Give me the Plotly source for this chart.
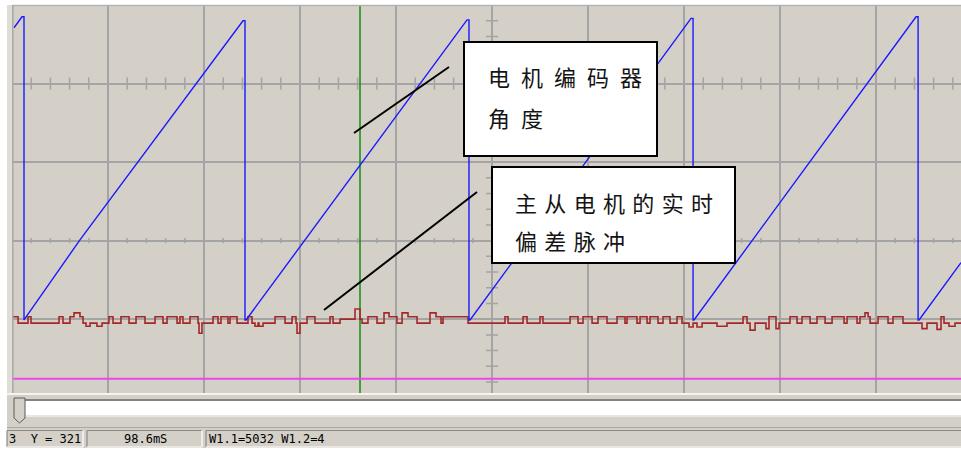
import plotly.graph_objects as go

# ---------------- data: time in ms (10 ms / div), amplitude in screen units (100 / div)
blue_t = [0.21, 1.04, 1.25, 1.25, 7.08, 24.06, 24.27, 24.27, 24.38, 47.40, 47.60, 47.60,
          47.71, 70.73, 70.94, 70.94, 71.04, 94.17, 94.38, 94.38, 94.48, 98.85]
blue_v = [371, 385, 385, -1, 101, 380, 380, -1, -1, 381, 381, -1,
          -1, 383, 383, -1, -1, 385, 385, -1, -1, 72]

red_t = [0.00, 0.63, 1.67, 1.98, 4.90, 5.31, 6.04, 6.46, 7.08, 7.40,
         7.71, 8.13, 8.85, 9.38, 10.10, 10.52, 11.35, 12.19, 12.92, 13.85,
         14.90, 15.73, 16.15, 17.19, 17.50, 17.81, 18.54, 19.38, 19.48, 19.79,
         20.94, 21.46, 21.77, 22.50, 22.71, 23.44, 24.58, 25.00, 25.31, 25.63,
         25.73, 26.15, 27.40, 28.44, 29.17, 29.58, 29.69, 30.00, 30.73, 31.56,
         33.13, 33.44, 34.17, 35.73, 36.25, 36.46, 37.08, 38.02, 38.75, 39.27,
         40.10, 40.63, 41.25, 42.19, 43.54, 44.17, 44.69, 44.90, 47.50, 51.35,
         51.67, 53.23, 53.65, 55.00, 55.31, 58.13, 58.96, 59.48, 60.42, 61.04,
         61.98, 63.02, 63.85, 64.06, 65.10, 65.42, 66.15, 66.46, 67.29, 67.81,
         68.54, 69.27, 69.79, 70.52, 70.94, 71.35, 71.88, 73.44, 74.48, 76.15,
         76.56, 76.88, 77.40, 78.54, 78.85, 79.58, 79.90, 81.04, 81.77, 82.29,
         83.13, 83.85, 84.69, 85.42, 86.67, 86.98, 88.02, 88.33, 88.85, 89.17,
         89.38, 90.21, 91.25, 91.77, 92.81, 94.79, 95.31, 96.35, 96.77, 97.08,
         97.60, 98.23, 98.85]
red_v = [3, -5, 3, -5, 3, -5, 3, 8, 3, -5,
         -9, -5, -9, -5, 3, -5, 3, -5, 3, -5,
         3, -5, 3, -5, 3, -5, 3, -5, -18, -5,
         3, -5, 3, -5, 3, -5, 3, -5, -9, -5,
         -9, -5, 3, -5, 3, -5, -18, -5, 3, -5,
         3, -5, 0, 13, 0, -5, 3, -5, 8, 3,
         -5, 8, 3, -5, 8, 3, -5, 3, -5, 3,
         -5, 3, -5, 3, -5, 3, -5, 3, -5, 3,
         -5, 3, -5, 3, -5, 3, -5, 3, -5, 3,
         -5, 3, -5, -10, -5, -10, -5, -9, -5, 3,
         -5, -14, -5, -12, 3, -12, -5, 3, -5, 3,
         -5, 3, -5, 3, -5, 3, -5, 3, 8, 3,
         -5, 3, -5, 3, -5, -12, -5, -13, 3, -5,
         -9, -5, -5]

pink_t = [0.0, 98.85]
pink_v = [-76, -76]
cursor_t = 36.25

x_range = [0, 98.85]
y_range = [-94, 400]

box1_lines = ["电\u2002机\u2002编\u2002码\u2002器", "角\u2002度"]
box2_lines = ["主\u2004从\u2004电\u2004机\u2004的\u2004实\u2004时", "偏\u2004差\u2004脉\u2004冲"]
status_texts = ["3  Y = 321", "98.6mS", "W1.1=5032 W1.2=4"]

# ---------------- geometry helpers (pixel -> paper)
W, H = 961, 452
L, R, T, B = 12, 0, 5, 59
PW, PH = W - L - R, H - T - B


def px(x):
    return (x - L) / PW


def py(y):
    return (H - B - y) / PH


GRID = '#A4A4A4'
BG = '#D4D0C8'

fig = go.Figure()
fig.add_trace(go.Scatter(x=[cursor_t, cursor_t], y=y_range, mode='lines',
                         line=dict(color='#128C12', width=1.5), hoverinfo='skip'))
fig.add_trace(go.Scatter(x=pink_t, y=pink_v, mode='lines',
                         line=dict(color='#EE44EE', width=2), hoverinfo='skip'))
fig.add_trace(go.Scatter(x=red_t, y=red_v, mode='lines',
                         line=dict(color='#A32828', width=1.6, shape='hv'), hoverinfo='skip'))
fig.add_trace(go.Scatter(x=blue_t, y=blue_v, mode='lines',
                         line=dict(color='#1A1AFF', width=1.4), hoverinfo='skip'))

shapes = []
# axis tick marks on the scope's centre lines
tk = ''.join(f'M{t},{300 - 7.6}L{t},{300 + 7.6}' for t in range(2, 99, 2))
shapes.append(dict(type='path', xref='x', yref='y', path=tk, layer='below',
                   line=dict(color=GRID, width=1.5)))
tk = ''.join(f'M{t},{100 - 3.2}L{t},{100 + 3.2}' for t in range(2, 99, 2))
shapes.append(dict(type='path', xref='x', yref='y', path=tk, layer='below',
                   line=dict(color=GRID, width=1.5)))
tk = ''.join(f'M{50 - 0.63},{v}L{50 + 0.63},{v}' for v in range(-80, 400, 20))
shapes.append(dict(type='path', xref='x', yref='y', path=tk, layer='below',
                   line=dict(color=GRID, width=1.5)))

# frame borders
shapes.append(dict(type='line', xref='paper', yref='paper', x0=px(12), x1=px(961),
                   y0=py(5.5), y1=py(5.5), line=dict(color='#B4B4B4', width=1.5)))
shapes.append(dict(type='line', xref='paper', yref='paper', x0=px(12.8), x1=px(12.8),
                   y0=py(5), y1=py(393), line=dict(color='#A8A8A8', width=1.5)))
shapes.append(dict(type='rect', xref='paper', yref='paper', x0=px(7), x1=px(12),
                   y0=py(5), y1=py(393), fillcolor='#E0DDD7', line=dict(width=0)))

# bottom chrome: scroll bar and status bar
shapes.append(dict(type='rect', xref='paper', yref='paper', x0=px(7), x1=px(961),
                   y0=py(393), y1=py(448), fillcolor=BG, line=dict(width=0), layer='below'))
shapes.append(dict(type='line', xref='paper', yref='paper', x0=px(7), x1=px(961),
                   y0=py(394), y1=py(394), line=dict(color='#F4F3F0', width=2)))
shapes.append(dict(type='rect', xref='paper', yref='paper', x0=px(25), x1=px(961),
                   y0=py(401), y1=py(415), fillcolor='white', line=dict(width=0)))
shapes.append(dict(type='line', xref='paper', yref='paper', x0=px(18), x1=px(961),
                   y0=py(400), y1=py(400), line=dict(color='#6A6A6A', width=1.5)))
shapes.append(dict(type='line', xref='paper', yref='paper', x0=px(18), x1=px(961),
                   y0=py(416), y1=py(416), line=dict(color='#EEEEEE', width=1.5)))
thumb = (f'M{px(14)},{py(398)}L{px(25)},{py(398)}L{px(25)},{py(418)}'
         f'L{px(19.5)},{py(423)}L{px(14)},{py(418)}Z')
shapes.append(dict(type='path', xref='paper', yref='paper', path=thumb,
                   fillcolor=BG, line=dict(color='#5A5A5A', width=1)))
shapes.append(dict(type='line', xref='paper', yref='paper', x0=px(7), x1=px(961),
                   y0=py(427.5), y1=py(427.5), line=dict(color='#A8A8A8', width=1)))
for x0, x1 in [(7, 83), (87, 202), (206, 965)]:
    shapes.append(dict(type='line', xref='paper', yref='paper', x0=px(x0), x1=px(x1),
                       y0=py(430.5), y1=py(430.5), line=dict(color='#8A8A8A', width=1.2)))
    shapes.append(dict(type='line', xref='paper', yref='paper', x0=px(x0), x1=px(x0),
                       y0=py(430.5), y1=py(447), line=dict(color='#8A8A8A', width=1.2)))
    shapes.append(dict(type='line', xref='paper', yref='paper', x0=px(x0), x1=px(x1),
                       y0=py(447), y1=py(447), line=dict(color='#FFFFFF', width=1.2)))
    shapes.append(dict(type='line', xref='paper', yref='paper', x0=px(x1), x1=px(x1),
                       y0=py(430.5), y1=py(447), line=dict(color='#FFFFFF', width=1.2)))

# callout boxes and pointer lines
for (x0, y0, x1, y1) in [(464, 42, 657, 156), (492, 167, 735, 263)]:
    shapes.append(dict(type='rect', xref='paper', yref='paper', x0=px(x0), x1=px(x1),
                       y0=py(y0), y1=py(y1), fillcolor='white', layer='above',
                       line=dict(color='black', width=2)))
for (x0, y0, x1, y1) in [(354, 133, 449, 67), (324, 310, 477, 192)]:
    shapes.append(dict(type='line', xref='paper', yref='paper', x0=px(x0), x1=px(x1),
                       y0=py(y0), y1=py(y1), layer='above',
                       line=dict(color='black', width=2)))

annotations = []
cjk = dict(family='Noto Sans CJK SC', size=22, color='#141414')
for text, (x, y) in zip(box1_lines + box2_lines, [(487, 76), (487, 117), (514, 202), (514, 240)]):
    annotations.append(dict(text=text, xref='paper', yref='paper', x=px(x), y=py(y),
                            xanchor='left', yanchor='middle', showarrow=False,
                            borderpad=0, font=cjk))
mono = dict(family='DejaVu Sans Mono', size=12, color='black')
for text, (x, anchor) in zip(status_texts, [(8, 'left'), (145, 'center'), (208, 'left')]):
    annotations.append(dict(text=text, xref='paper', yref='paper', x=px(x), y=py(439),
                            xanchor=anchor, yanchor='middle', showarrow=False,
                            borderpad=0, font=mono))

fig.update_layout(
    width=W, height=H,
    margin=dict(l=L, r=R, t=T, b=B, pad=0),
    paper_bgcolor='white', plot_bgcolor=BG,
    showlegend=False,
    xaxis=dict(range=x_range, dtick=10, tick0=0, showgrid=True, gridcolor=GRID, gridwidth=1.5,
               zeroline=False, showticklabels=False, ticks='', showline=False, fixedrange=True),
    yaxis=dict(range=y_range, dtick=100, tick0=0, showgrid=True, gridcolor=GRID, gridwidth=1.5,
               zeroline=False, showticklabels=False, ticks='', showline=False, fixedrange=True),
    shapes=shapes,
    annotations=annotations,
)

fig.write_html("out.html", config={'displayModeBar': False},
               post_script="document.body.style.margin='0px';document.body.style.overflow='hidden';")
